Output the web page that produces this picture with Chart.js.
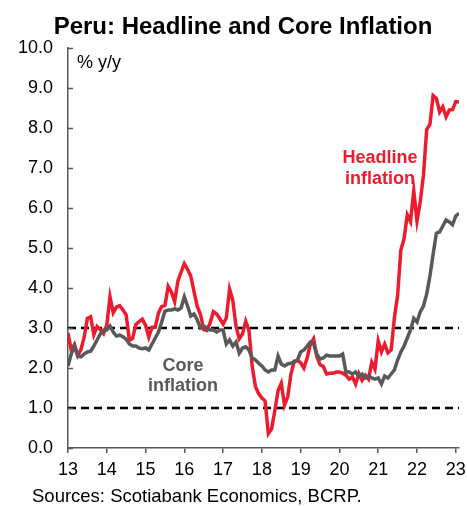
<!DOCTYPE html>
<html>
<head>
<meta charset="utf-8">
<script src="https://cdn.jsdelivr.net/npm/chart.js@4/dist/chart.umd.min.js"></script>
<style>
  body { margin: 0; background: #fff; }
  #wrap { width: 467px; height: 506px; }
</style>
</head>
<body>
<div id="wrap"><canvas id="peruChart" width="467" height="506"></canvas></div>
<script>
// monthly, Jan 2013 .. Feb 2023, % y/y
const tickLabels = ["13", "14", "15", "16", "17", "18", "19", "20", "21", "22", "23"];

const headline = [
    2.87, 2.45, 2.59, 2.31, 2.46, 2.77, 3.24, 3.28, 2.83, 3.04, 2.96, 2.86,
    3.07, 3.78, 3.38, 3.52, 3.56, 3.45, 3.33, 2.69, 2.74, 3.09, 3.16, 3.22,
    3.07, 2.77, 3.02, 3.02, 3.37, 3.54, 3.56, 4.04, 3.90, 3.66, 4.17, 4.40,
    4.61, 4.47, 4.30, 3.91, 3.54, 3.34, 2.96, 2.94, 3.13, 3.41, 3.35, 3.23,
    3.10, 3.25, 3.97, 3.69, 3.04, 2.73, 2.85, 3.17, 2.94, 2.04, 1.54, 1.36,
    1.25, 1.18, 0.36, 0.48, 0.93, 1.43, 1.62, 1.07, 1.28, 1.85, 2.17, 2.19,
    2.13, 2.00, 2.25, 2.59, 2.73, 2.29, 2.08, 2.04, 1.85, 1.87, 1.87, 1.90,
    1.90, 1.87, 1.82, 1.72, 1.78, 1.60, 1.86, 1.69, 1.82, 1.72, 2.14, 1.97,
    2.68, 2.40, 2.60, 2.38, 2.45, 3.25, 3.81, 4.95, 5.23, 5.83, 5.66, 6.43,
    5.68, 6.15, 6.82, 7.96, 8.09, 8.81, 8.74, 8.40, 8.53, 8.28, 8.45, 8.46,
    8.66, 8.65
];

const core = [
    2.05, 2.35, 2.55, 2.30, 2.28, 2.35, 2.40, 2.42, 2.55, 2.70, 2.85, 2.95,
    2.95, 3.05, 2.90, 2.80, 2.82, 2.78, 2.72, 2.60, 2.55, 2.55, 2.50, 2.48,
    2.50, 2.45, 2.60, 2.75, 2.90, 3.15, 3.42, 3.45, 3.45, 3.48, 3.45, 3.50,
    3.78, 3.55, 3.30, 3.35, 3.20, 3.00, 3.05, 3.00, 2.95, 2.95, 2.90, 2.95,
    2.95, 2.60, 2.70, 2.55, 2.65, 2.37, 2.50, 2.53, 2.45, 2.25, 2.20, 2.12,
    2.05, 1.95, 1.90, 1.95, 1.95, 2.30, 2.10, 2.05, 2.10, 2.12, 2.15, 2.20,
    2.40, 2.45, 2.55, 2.65, 2.60, 2.35, 2.22, 2.25, 2.32, 2.30, 2.30, 2.30,
    2.30, 2.35, 1.90, 1.90, 1.85, 1.90, 1.80, 1.85, 1.75, 1.80, 1.75, 1.72,
    1.75, 1.60, 1.80, 1.75, 1.85, 1.95, 2.20, 2.40, 2.55, 2.75, 2.95, 3.24,
    3.15, 3.40, 3.55, 3.85, 4.30, 4.85, 5.37, 5.40, 5.55, 5.70, 5.65, 5.58,
    5.80, 5.87
];

// inflation target band
const targetLow = 1.0;
const targetHigh = 3.0;

const RED = "#EC1C2E";
const GREY = "#595959";
const FONT = "'Liberation Sans', Arial, sans-serif";

const lastIdx = headline.length - 1;
const toPoints = arr => arr.map((v, i) => ({ x: i, y: v }));
const flatLine = v => [{ x: 0, y: v }, { x: lastIdx, y: v }];

// title, unit label, annotations, source + inward y ticks
const extras = {
    id: "extras",
    afterDraw(chart) {
        const { ctx, chartArea, scales } = chart;
        ctx.save();

        // y ticks point into the plot
        ctx.strokeStyle = GREY;
        ctx.lineWidth = 1.5;
        scales.y.ticks.forEach(t => {
            const y = Math.round(scales.y.getPixelForValue(t.value)) + 0.5;
            ctx.beginPath();
            ctx.moveTo(chartArea.left, y);
            ctx.lineTo(chartArea.left + 5, y);
            ctx.stroke();
        });

        ctx.fillStyle = "#000";
        ctx.textAlign = "center";
        ctx.textBaseline = "alphabetic";
        ctx.font = "bold 24px " + FONT;
        ctx.fillText("Peru: Headline and Core Inflation", 243, 34);

        ctx.textAlign = "left";
        ctx.font = "18px " + FONT;
        ctx.fillText("% y/y", 77, 68);

        ctx.font = "18.5px " + FONT;
        ctx.fillText("Sources: Scotiabank Economics, BCRP.", 32, 502);

        ctx.textAlign = "center";
        ctx.font = "bold 18px " + FONT;
        ctx.fillStyle = RED;
        ctx.fillText("Headline", 380, 163);
        ctx.fillText("inflation", 380, 184);

        ctx.fillStyle = GREY;
        ctx.fillText("Core", 183, 371);
        ctx.fillText("inflation", 183, 391);

        ctx.restore();
    }
};

const ctx = document.getElementById("peruChart").getContext("2d");

const chart = new Chart(ctx, {
    type: "line",
    data: {
        datasets: [
            {
                label: "Core inflation",
                data: toPoints(core),
                borderColor: GREY,
                borderWidth: 3.5,
                pointRadius: 0,
                tension: 0,
                fill: false
            },
            {
                label: "Headline inflation",
                data: toPoints(headline),
                borderColor: RED,
                borderWidth: 3.5,
                pointRadius: 0,
                tension: 0,
                fill: false
            },
            {
                label: "Target high",
                data: flatLine(targetHigh),
                borderColor: "#000",
                borderWidth: 2.5,
                borderDash: [8, 5],
                pointRadius: 0,
                fill: false
            },
            {
                label: "Target low",
                data: flatLine(targetLow),
                borderColor: "#000",
                borderWidth: 2.5,
                borderDash: [8, 5],
                pointRadius: 0,
                fill: false
            }
        ]
    },
    options: {
        responsive: false,
        animation: false,
        devicePixelRatio: 1,
        layout: { padding: { top: 48, right: 8, left: 0, bottom: 0 } },
        plugins: {
            legend: { display: false },
            title: { display: false },
            tooltip: { enabled: false }
        },
        scales: {
            x: {
                type: "linear",
                min: 0,
                max: lastIdx,
                afterBuildTicks: scale => {
                    scale.ticks = tickLabels.map((lbl, i) => ({ value: i * 12 }));
                },
                afterFit: scale => {
                    scale.height = 58;
                    scale.paddingLeft = 0;
                    scale.paddingRight = 0;
                },
                ticks: {
                    autoSkip: false,
                    maxRotation: 0,
                    padding: 6,
                    color: "#000",
                    font: { family: FONT, size: 18 },
                    callback: (v, i) => tickLabels[i]
                },
                grid: {
                    drawOnChartArea: false,
                    drawTicks: true,
                    tickLength: 5,
                    color: GREY,
                    lineWidth: 1.5
                },
                border: { display: true, color: GREY, width: 1.5 }
            },
            y: {
                min: 0,
                max: 10,
                afterFit: scale => { scale.width = 68; },
                ticks: {
                    stepSize: 1,
                    padding: 15,
                    color: "#000",
                    font: { family: FONT, size: 18 },
                    callback: v => v.toFixed(1)
                },
                grid: {
                    drawOnChartArea: false,
                    drawTicks: false
                },
                border: { display: true, color: GREY, width: 1.5 }
            }
        }
    },
    plugins: [extras]
});
</script>
</body>
</html>
